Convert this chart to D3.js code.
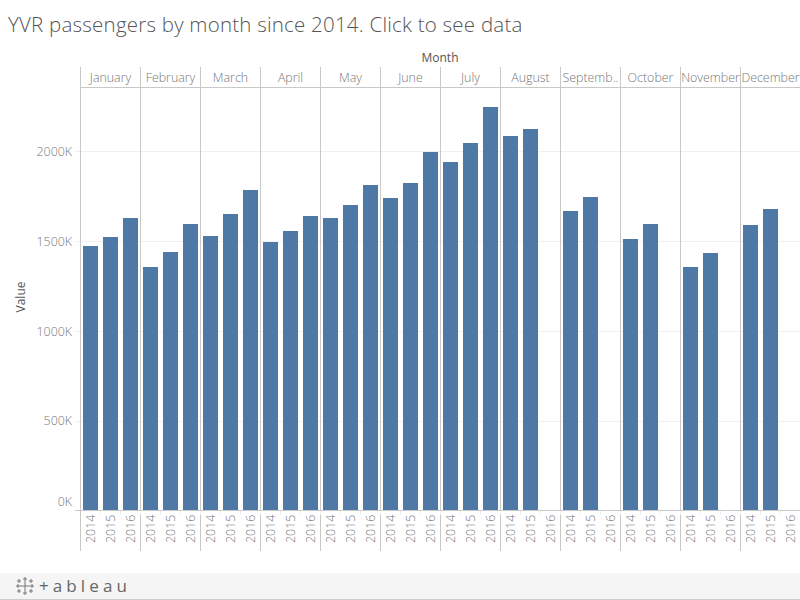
<!DOCTYPE html>
<html><head><meta charset="utf-8">
<script src="https://cdn.jsdelivr.net/npm/d3@7"></script>
<style>html,body{margin:0;padding:0;background:#fff;overflow:hidden}svg{display:block}text{font-family:"Open Sans",Lato,sans-serif}</style>
</head><body><svg id="c" width="800" height="600"></svg>
<script>
const months = ["January","February","March","April","May","June","July","August","Septemb..","October","November","December"];
const years = ["2014","2015","2016"];
const values2014 = [1471,1354,1526,1493,1627,1738,1939,2084,1666,1510,1354,1588];
const values2015 = [1521,1437,1649,1554,1699,1822,2045,2123,1744,1593,1432,1677];
const values2016 = [1627,1593,1783,1638,1811,1994,2245,null,null,null,null,null];
const yTicks = [0,500,1000,1500,2000];
const title = "YVR passengers by month since 2014. Click to see data";

const svg = d3.select("#c");
const x0 = d3.scaleBand().domain(months).range([80.5,800.5]);
const x1 = d3.scaleBand().domain(years).range([0,60]).paddingInner(0.25).paddingOuter(0.125);
const y = d3.scaleLinear().domain([0,2000]).range([510,151]);
const line="#c8c8c8", grid="#f0f0f0";

svg.append("text").attr("x",8).attr("y",32).attr("font-size",20.5).attr("letter-spacing",.22).attr("font-weight",300).attr("fill","#555").text(title);
svg.append("text").attr("x",440).attr("y",62).attr("text-anchor","middle").attr("font-size",12).attr("fill","#555").text("Month");
svg.append("text").attr("transform","translate(25,297) rotate(-90)").attr("text-anchor","middle").attr("font-size",12).attr("fill","#555").text("Value");

svg.selectAll(".g").data(yTicks.slice(1)).join("line").attr("x1",75).attr("x2",800)
  .attr("y1",d=>Math.ceil(y(d))+.5).attr("y2",d=>Math.ceil(y(d))+.5).attr("stroke",grid);
svg.selectAll(".yl").data(yTicks).join("text").attr("x",72).attr("y",d=>d===0?y(d)-4:y(d)+5).attr("text-anchor","end")
  .attr("font-size",12.4).attr("font-weight",300).attr("fill","#777").text(d=>d+"K");

// bars
[values2014,values2015,values2016].forEach((vals,i)=>{
  svg.append("g").attr("shape-rendering","crispEdges").selectAll("rect").data(vals.map((v,j)=>({v,m:months[j]})).filter(d=>d.v!=null)).join("rect")
    .attr("x",d=>x0(d.m)+x1(years[i])-.5).attr("width",x1.bandwidth())
    .attr("y",d=>y(d.v)).attr("height",d=>y(0)-y(d.v)).attr("fill","#4e79a7");
});

// frame
svg.append("line").attr("x1",80).attr("x2",800).attr("y1",87.5).attr("y2",87.5).attr("stroke",line);
svg.append("line").attr("x1",75).attr("x2",800).attr("y1",510.5).attr("y2",510.5).attr("stroke",line);
svg.selectAll(".v").data(months).join("line").attr("x1",d=>x0(d)).attr("x2",d=>x0(d)).attr("y1",67).attr("y2",551).attr("stroke",line);
svg.selectAll(".ml").data(months).join("text").attr("x",d=>x0(d)+30).attr("y",82).attr("text-anchor","middle")
  .attr("font-size",12.4).attr("font-weight",300).attr("fill","#777").text(d=>d);

// year labels
months.forEach(m=>{
  years.forEach(yr=>{
    const cx=x0(m)+x1(yr)+x1.bandwidth()/2;
    svg.append("line").attr("x1",cx+10).attr("x2",cx+10).attr("y1",511).attr("y2",515).attr("stroke","#eee");
    svg.append("text").attr("transform",`translate(${cx+4.5},543) rotate(-90)`)
      .attr("font-size",12.4).attr("font-weight",300).attr("fill","#777").text(yr);
  });
});

// footer
svg.append("rect").attr("x",0).attr("y",573).attr("width",800).attr("height",26).attr("fill","#f5f5f5");
svg.append("line").attr("x1",0).attr("x2",800).attr("y1",599.5).attr("y2",599.5).attr("stroke","#ccc");
const icon=svg.append("g").attr("stroke","#777").attr("stroke-width",1).attr("fill","none");
[[25,586,5],[19,581,2],[31,581,2],[19,591,2],[31,591,2],[25,579,2],[25,593,2],[18,586,2],[32,586,2]].forEach(([cx,cy,r])=>{
  icon.append("path").attr("d",`M${cx-r},${cy}H${cx+r}M${cx},${cy-r}V${cy+r}`);
});
svg.append("text").attr("x",39).attr("y",592).attr("font-size",17).attr("letter-spacing",4.1).attr("fill","#666").text("+ableau");
</script></body></html>
